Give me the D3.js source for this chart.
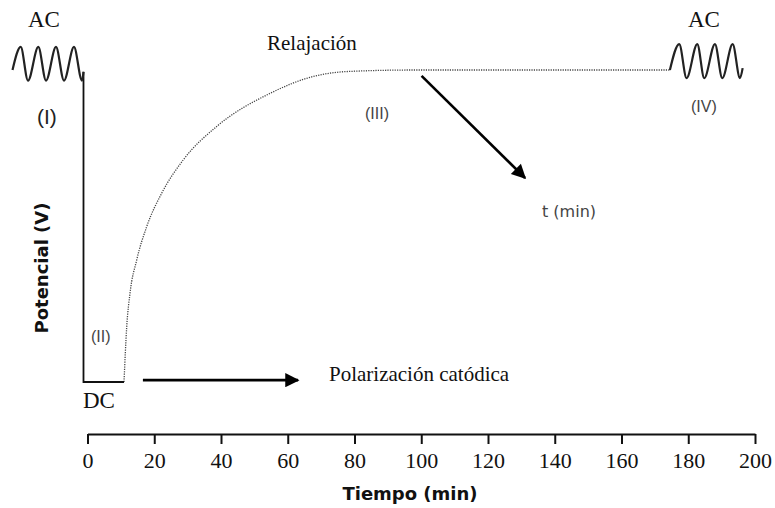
<!DOCTYPE html>
<html><head><meta charset="utf-8">
<script src="https://cdn.jsdelivr.net/npm/d3@7/dist/d3.min.js"></script>
<style>body{margin:0;background:#fff}svg{display:block}</style>
</head><body>
<svg id="c" width="775" height="508"></svg>
<script>
// ---- data ----
const xTicks = [0,20,40,60,80,100,120,140,160,180,200];
// relaxation curve (time min, normalized potential)
const relaxT = [10.94,11.75,12.73,14.74,17.74,22.23,28.70,38.71,54.68,67.57,77.66,97.5,174.5];
const relaxV = [0,0.177,0.284,0.391,0.498,0.605,0.712,0.819,0.925,0.979,0.995,1.0,1.0];
// cathodic polarization step (DC)
const dcT = [-1.2,-1.2,10.94];
const dcV = [0.994,0,0];
// AC perturbation I (before) : extrema points
const ac1T = [-22.47,-20.01,-17.83,-14.74,-12.43,-9.44,-7.04,-4.05,-1.65,-1.2];
const ac1V = [1.0,1.074,0.966,1.074,0.966,1.074,0.966,1.074,0.966,0.994];
// AC perturbation IV (after)
const ac2T = [174.5,177.3,179.5,182.7,184.8,188.0,190.2,193.3,195.5,196.3];
const ac2V = [1.0,1.083,0.974,1.083,0.974,1.083,0.974,1.083,0.974,1.006];
// annotation arrows [t0,v0,t1,v1]
const arrowPol = [16.6,0.006,63.1,0.006];
const arrowRel = [100.1,0.981,131.1,0.654];

const svg = d3.select("#c");
const x = d3.scaleLinear().domain([0,200]).range([87.5,755]);
const y = d3.scaleLinear().domain([0,1]).range([382,70]);

const zip = (a,b)=>a.map((t,i)=>[t,b[i]]);
const line = d3.line().x(d=>x(d[0])).y(d=>y(d[1]));

svg.append("defs").append("marker")
  .attr("id","ah").attr("viewBox","0 0 10 10").attr("refX",9).attr("refY",5)
  .attr("markerWidth",6).attr("markerHeight",5.5).attr("markerUnits","strokeWidth")
  .attr("orient","auto")
  .append("path").attr("d","M0,0L10,5L0,10z").attr("fill","#000");

// relaxation dotted
svg.append("path").datum(zip(relaxT,relaxV))
  .attr("d",line.curve(d3.curveMonotoneX)).attr("fill","none")
  .attr("stroke","#444").attr("stroke-width",1.3).attr("stroke-dasharray","1.2,1.2");

// DC step
svg.append("path").datum(zip(dcT,dcV))
  .attr("d",d3.line().x(d=>x(d[0])).y(d=>y(d[1]))).attr("fill","none")
  .attr("stroke","#111").attr("stroke-width",1.8);

// AC waves
[zip(ac1T,ac1V),zip(ac2T,ac2V)].forEach(d=>{
  svg.append("path").datum(d)
    .attr("d",d3.line().x(p=>x(p[0])).y(p=>y(p[1])).curve(d3.curveMonotoneX))
    .attr("fill","none").attr("stroke","#222").attr("stroke-width",2.2);
});

// arrows
[arrowPol,arrowRel].forEach(a=>{
  svg.append("line").attr("x1",x(a[0])).attr("y1",y(a[1])).attr("x2",x(a[2])).attr("y2",y(a[3]))
    .attr("stroke","#000").attr("stroke-width",2.6).attr("marker-end","url(#ah)");
});

// x axis
const ax = svg.append("g").attr("transform","translate(0,434)")
  .call(d3.axisBottom(x).tickValues(xTicks).tickSize(10).tickSizeOuter(0).tickPadding(8).tickFormat(d3.format("d")));
ax.select(".domain").attr("stroke","#111").attr("stroke-width",2);
ax.selectAll(".tick line").attr("stroke","#111").attr("stroke-width",2);
ax.selectAll(".tick text").attr("font-family","'Liberation Serif','Times New Roman',serif")
  .attr("font-size",22).attr("fill","#111");

// titles
svg.append("text").attr("x",410).attr("y",500).attr("text-anchor","middle")
  .attr("font-family","'DejaVu Sans',sans-serif").attr("font-weight","bold").attr("font-size",18)
  .attr("fill","#111").text("Tiempo (min)");
svg.append("text").attr("transform","translate(48,268) rotate(-90)").attr("text-anchor","middle")
  .attr("font-family","'DejaVu Sans',sans-serif").attr("font-weight","bold").attr("font-size",18)
  .attr("fill","#111").text("Potencial (V)");

// serif labels
const serif = (t,xx,yy,sz)=>svg.append("text").attr("x",xx).attr("y",yy)
  .attr("font-family","'Liberation Serif','Times New Roman',serif").attr("font-size",sz)
  .attr("fill","#111").text(t);
serif("AC",28,27,23);
serif("AC",688,27,23);
serif("DC",83,408,23);
serif("Relajación",267,50,21);
serif("Polarización catódica",329,381,21);

// sans labels
const sans = (t,xx,yy,sz,col,fam)=>svg.append("text").attr("x",xx).attr("y",yy)
  .attr("font-family",fam).attr("font-size",sz)
  .attr("fill",col).text(t);
const LS = "'Liberation Sans',Arial,sans-serif", DS = "'DejaVu Sans',sans-serif";
sans("(I)",37,124,21,"#222",LS);
sans("(II)",91,342,16,"#444",LS);
sans("(III)",365,119,16,"#444",LS);
sans("(IV)",691,112,16,"#444",LS);
sans("t (min)",542,217,16,"#444",DS);
</script>
</body></html>
